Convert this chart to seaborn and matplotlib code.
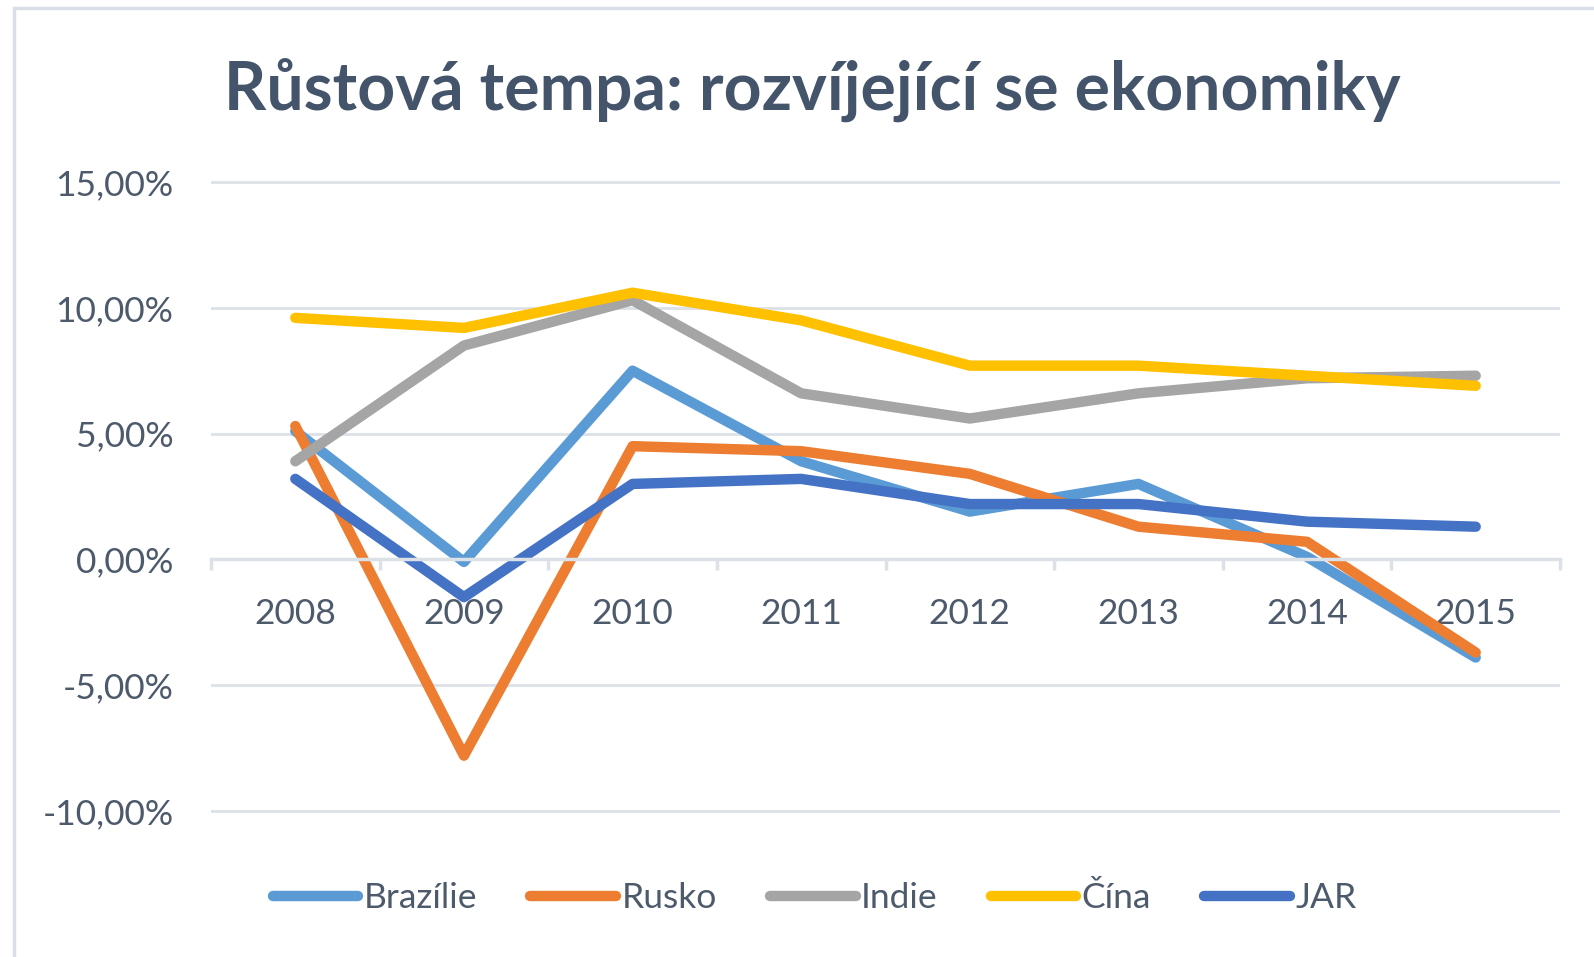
import numpy as np
import pandas as pd
import seaborn as sns
import matplotlib
matplotlib.use("Agg")
from matplotlib import pyplot as plt
from matplotlib.ticker import FuncFormatter, FixedLocator
from matplotlib.patches import Rectangle

# data (growth in %)
years = [2008, 2009, 2010, 2011, 2012, 2013, 2014, 2015]
brazilie = [5.1, -0.1, 7.5, 3.9, 1.9, 3.0, 0.1, -3.9]
rusko = [5.3, -7.8, 4.5, 4.3, 3.4, 1.3, 0.7, -3.7]
indie = [3.9, 8.5, 10.3, 6.6, 5.6, 6.6, 7.2, 7.3]
cina = [9.6, 9.2, 10.6, 9.5, 7.7, 7.7, 7.3, 6.9]
jar = [3.2, -1.5, 3.0, 3.2, 2.2, 2.2, 1.5, 1.3]
countries = ['Brazílie', 'Rusko', 'Indie', 'Čína', 'JAR']
colors = ['#5B9BD5', '#ED7D31', '#A5A5A5', '#FFC000', '#4472C4']

df = pd.DataFrame({
    'Rok': years * 5,
    'Růst': brazilie + rusko + indie + cina + jar,
    'Země': [c for c in countries for _ in years],
})

sns.set_theme(style='white')
plt.rcParams['font.family'] = ['Lato', 'DejaVu Sans']

text_col = '#4D5A6C'
grid_col = '#DCE1E8'
fs = 25.5

fig = plt.figure(figsize=(15.94, 9.57), dpi=100)
ax = fig.add_axes([211 / 1594, 1 - 823.6 / 957, (1560 - 211) / 1594, (823.6 - 169.4) / 957])

sns.lineplot(data=df, x='Rok', y='Růst', hue='Země', hue_order=countries,
             palette=colors, linewidth=7.5, sort=False, ax=ax,
             solid_capstyle='round', solid_joinstyle='round')

ax.set_xlim(2007.5, 2015.5)
ax.set_ylim(-10.5, 15.5)
ax.set_yticks([-10, -5, 0, 5, 10, 15])
ax.yaxis.set_major_formatter(FuncFormatter(lambda v, p: f'{v:.2f}'.replace('.', ',') + '%'))
ax.yaxis.grid(True, color=grid_col, linewidth=2)
ax.set_axisbelow(True)

for s in ['top', 'right', 'left']:
    ax.spines[s].set_visible(False)
ax.spines['bottom'].set_position(('data', 0))
ax.spines['bottom'].set_color(grid_col)
ax.spines['bottom'].set_linewidth(2.5)

ax.set_xticks(years)
ax.set_xticklabels([str(y) for y in years])
ax.xaxis.set_minor_locator(FixedLocator([y - 0.5 for y in years] + [2015.5]))
ax.tick_params(axis='x', which='major', length=0, pad=27.5, labelsize=fs, labelcolor=text_col)
ax.tick_params(axis='x', which='minor', bottom=True, length=8, width=2.5, color=grid_col)
ax.tick_params(axis='y', length=0, pad=27, labelsize=fs, labelcolor=text_col)
ax.set_xlabel('')
ax.set_ylabel('')

ax.get_legend().remove()
handles, labels = ax.get_legend_handles_labels()
for h in handles:
    h.set_solid_capstyle('round')
leg = fig.legend(handles, labels, loc='center', bbox_to_anchor=(0.511, 1 - 898 / 957),
                 ncol=5, frameon=False, fontsize=fs, handlelength=2.42,
                 handletextpad=0.15, columnspacing=1.5)
for t in leg.get_texts():
    t.set_color(text_col)

fig.text(0.5097, 1 - 110 / 957, 'Růstová tempa: rozvíjející se ekonomiky',
         ha='center', va='baseline', fontsize=47.5, fontweight='bold', color='#44546A')

# chart border
fig.patches.append(Rectangle((13.5 / 1594, -0.1), 1.2, 1.1 - 7.5 / 957,
                             transform=fig.transFigure, fill=False,
                             edgecolor='#D9DEE7', linewidth=2.5))

fig.savefig('out.png', dpi=100)
